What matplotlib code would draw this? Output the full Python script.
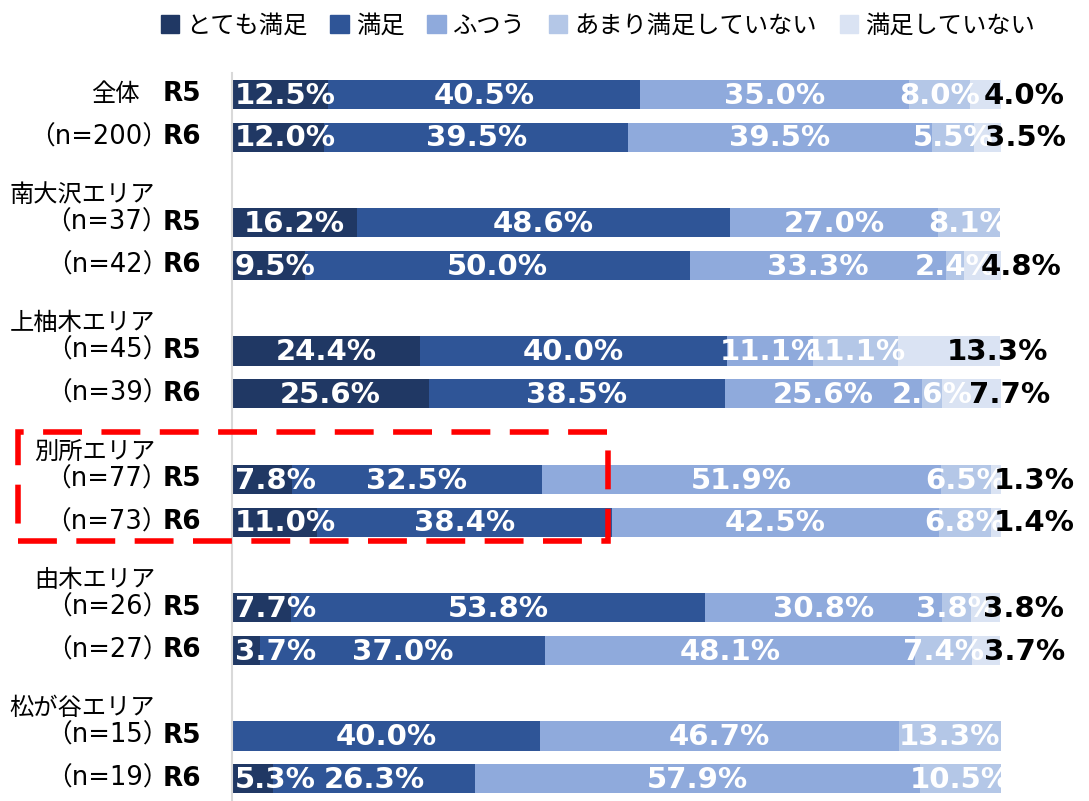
import matplotlib.pyplot as plt
from matplotlib.patches import Rectangle

plt.rcParams['font.family'] = ['Noto Sans CJK JP', 'DejaVu Sans']

# categories
areas = ['全体', '南大沢エリア', '上柚木エリア', '別所エリア', '由木エリア', '松が谷エリア']
n_r5 = ['（n=200）', '（n=37）', '（n=45）', '（n=77）', '（n=26）', '（n=15）']
n_r6 = ['', '（n=42）', '（n=39）', '（n=73）', '（n=27）', '（n=19）']
years = ['R5', 'R6']
series = ['とても満足', '満足', 'ふつう', 'あまり満足していない', '満足していない']
colors = ['#203864', '#2F5597', '#8FAADC', '#B4C7E7', '#DAE3F3']

# values (%) per area: R5 then R6, series order as above
r5 = [
    [12.5, 40.5, 35.0, 8.0, 4.0],
    [16.2, 48.6, 27.0, 8.1, 0.0],
    [24.4, 40.0, 11.1, 11.1, 13.3],
    [7.8, 32.5, 51.9, 6.5, 1.3],
    [7.7, 53.8, 30.8, 3.8, 3.8],
    [0.0, 40.0, 46.7, 13.3, 0.0],
]
r6 = [
    [12.0, 39.5, 39.5, 5.5, 3.5],
    [9.5, 50.0, 33.3, 2.4, 4.8],
    [25.6, 38.5, 25.6, 2.6, 7.7],
    [11.0, 38.4, 42.5, 6.8, 1.4],
    [3.7, 37.0, 48.1, 7.4, 3.7],
    [5.3, 26.3, 57.9, 10.5, 0.0],
]

fig = plt.figure(figsize=(10.89, 8.01), dpi=100)
ax = fig.add_axes([232 / 1089, 0, 769 / 1089, 1 - 73 / 801])

num_font = dict(fontsize=21, fontweight='bold', family='DejaVu Sans')
jp_font = dict(fontsize=17.5, family=['Noto Sans CJK JP'])
n_font = dict(fontsize=18.5, family=['DejaVu Sans', 'Noto Sans CJK JP'])

bar_h = 0.68
white_labels = []
for g in range(len(areas)):
    for k, rows in enumerate([r5, r6]):
        y = 3 * g + 1 + k
        vals = rows[g]
        left = 0
        for s, v in enumerate(vals):
            if v > 0:
                ax.barh(y, v, left=left, height=bar_h, color=colors[s], edgecolor='none')
                if s < 4:
                    t = ax.text(left + v / 2, y + 0.03, f'{v:.1f}%', ha='center',
                                va='center', color='white', **num_font)
                    white_labels.append(t)
                else:
                    ax.text(left + v / 2 - 0.3, y + 0.03, f'{v:.1f}%', ha='left',
                            va='center', color='black', clip_on=False, **num_font)
            left += v
        # R5 / R6 tag
        ax.text(-4.0, y, years[k], ha='right', va='center', fontsize=19,
                fontweight='bold', family='DejaVu Sans', clip_on=False)

    # area name and n
    if g == 0:
        ax.text(-12.0, 1, areas[g], ha='right', va='center', clip_on=False, **jp_font)
        ax.text(-8.3, 2, n_r5[g], ha='right', va='center', clip_on=False, **n_font)
    else:
        ax.text(-10.0, 3 * g + 0.35, areas[g], ha='right', va='center', clip_on=False,
                **jp_font)
        ax.text(-8.3, 3 * g + 1, n_r5[g], ha='right', va='center', clip_on=False,
                **n_font)
        ax.text(-8.3, 3 * g + 2, n_r6[g], ha='right', va='center', clip_on=False,
                **n_font)

ax.set_xlim(0, 100)
ax.set_ylim(17.52, 0.5)
ax.set_xticks([])
ax.set_yticks([])
for sp in ['top', 'right', 'bottom']:
    ax.spines[sp].set_visible(False)
ax.spines['left'].set_color('#D9D9D9')
ax.spines['left'].set_linewidth(1.5)

# keep white labels inside the plot area (like Excel does)
fig.canvas.draw()
r = fig.canvas.get_renderer()
ax_left = ax.get_window_extent(r).x0
for t in white_labels:
    bb = t.get_window_extent(r)
    if bb.x0 < ax_left + 3:
        shift = ax_left + 3 - bb.x0
        x, y = t.get_position()
        x_disp = ax.transData.transform((x, y))[0] + shift
        t.set_x(ax.transData.inverted().transform((x_disp, 0))[0])

# legend
handles = [Rectangle((0, 0), 1, 1, color=c) for c in colors]
fig.legend(handles, series, loc='upper center', bbox_to_anchor=(0.549, 1.012), ncol=5,
           frameon=False, fontsize=17.5, handlelength=0.75, handleheight=0.75,
           handletextpad=0.3, columnspacing=0.95)

# red dashed highlight box around 別所エリア
box = Rectangle((18 / 1089, 1 - 541 / 801), (608 - 18) / 1089, (541 - 432) / 801,
                transform=fig.transFigure, fill=False, edgecolor='#FF0000',
                linewidth=4, linestyle=(0, (7, 3.5)), clip_on=False)
fig.patches.append(box)

fig.savefig('out.png', dpi=100)
